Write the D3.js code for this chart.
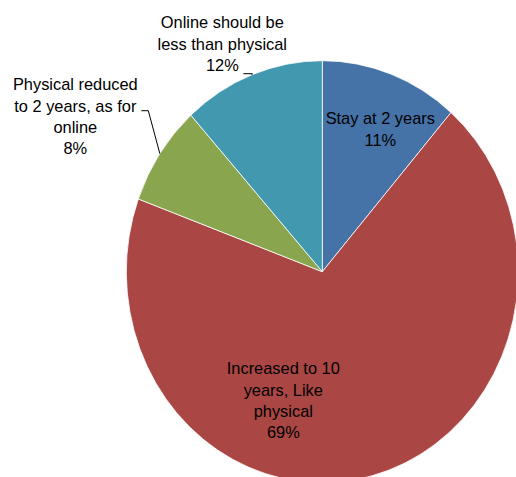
<!DOCTYPE html>
<html>
<head>
<meta charset="utf-8">
<script src="https://cdn.jsdelivr.net/npm/d3@7"></script>
<style>
    body { margin: 0; background: #fff; }
    text { font-family: Arial, "Liberation Sans", sans-serif; font-size: 16.4px; fill: #000; }
</style>
</head>
<body>
<div id="chart"></div>
<script>
// Slice data, clockwise from 12 o'clock.
const categories = [
    "Stay at 2 years",
    "Increased to 10 years, Like physical",
    "Physical reduced to 2 years, as for online",
    "Online should be less than physical"
];
const shares = [11.4, 69.2, 7.7, 11.7];
const percentLabels = ["11%", "69%", "8%", "12%"];
const colors = ["#4572A7", "#AA4643", "#89A54E", "#4198AF"];

// Wrapped label lines, as drawn in the picture.
const labelLines = [
    ["Stay at 2 years"],
    ["Increased to 10", "years, Like", "physical"],
    ["Physical reduced", "to 2 years, as for", "online"],
    ["Online should be", "less than physical"]
];

const width = 516;
const height = 477;
const cx = 322.3;
const cy = 271.7;
const rx = 196;
const ry = 211;
const lineHeight = 21.3;

// Label placement relative to the pie centre (centre of first line), and leader start for outside labels.
const labelLayout = [
    { x: 58, y: -153, leader: null },
    { x: -39, y: 97, leader: null },
    { x: -247, y: -187, leader: { x0: -181, y0: -161, x1: -174 } },
    { x: -100, y: -249, leader: { x0: -79, y0: -198, x1: -70 } }
];

const svg = d3.select("#chart").append("svg")
    .attr("width", width)
    .attr("height", height);

const pie = d3.pie().sort(null).value(d => d);
const arcs = pie(shares);

const arc = d3.arc().innerRadius(0).outerRadius(rx);

// The pie is slightly taller than wide, so draw a circle and stretch it.
svg.append("g")
    .attr("transform", `translate(${cx}, ${cy}) scale(1, ${ry / rx})`)
    .selectAll("path")
    .data(arcs)
    .join("path")
    .attr("d", arc)
    .attr("fill", (d, i) => colors[i])
    .attr("stroke", "#fff")
    .attr("stroke-width", 0.8)
    .attr("vector-effect", "non-scaling-stroke");

const labels = svg.append("g")
    .attr("transform", `translate(${cx}, ${cy})`);

// Leader lines go to the rim at the middle of the slice.
arcs.forEach((d, i) => {
    const lay = labelLayout[i];
    if (!lay.leader) return;
    const mid = (d.startAngle + d.endAngle) / 2;
    const ex = rx * Math.sin(mid);
    const ey = -ry * Math.cos(mid);
    labels.append("path")
        .attr("d", `M${lay.leader.x0},${lay.leader.y0}H${lay.leader.x1}L${ex},${ey}`)
        .attr("fill", "none")
        .attr("stroke", "#000")
        .attr("stroke-width", 1);
});

arcs.forEach((d, i) => {
    const lay = labelLayout[i];
    const lines = labelLines[i].concat([percentLabels[i]]);
    const t = labels.append("text")
        .attr("text-anchor", "middle");
    lines.forEach((s, j) => {
        t.append("tspan")
            .attr("x", lay.x)
            .attr("y", lay.y + j * lineHeight)
            .attr("dy", "0.35em")
            .text(s);
    });
});
</script>
</body>
</html>
